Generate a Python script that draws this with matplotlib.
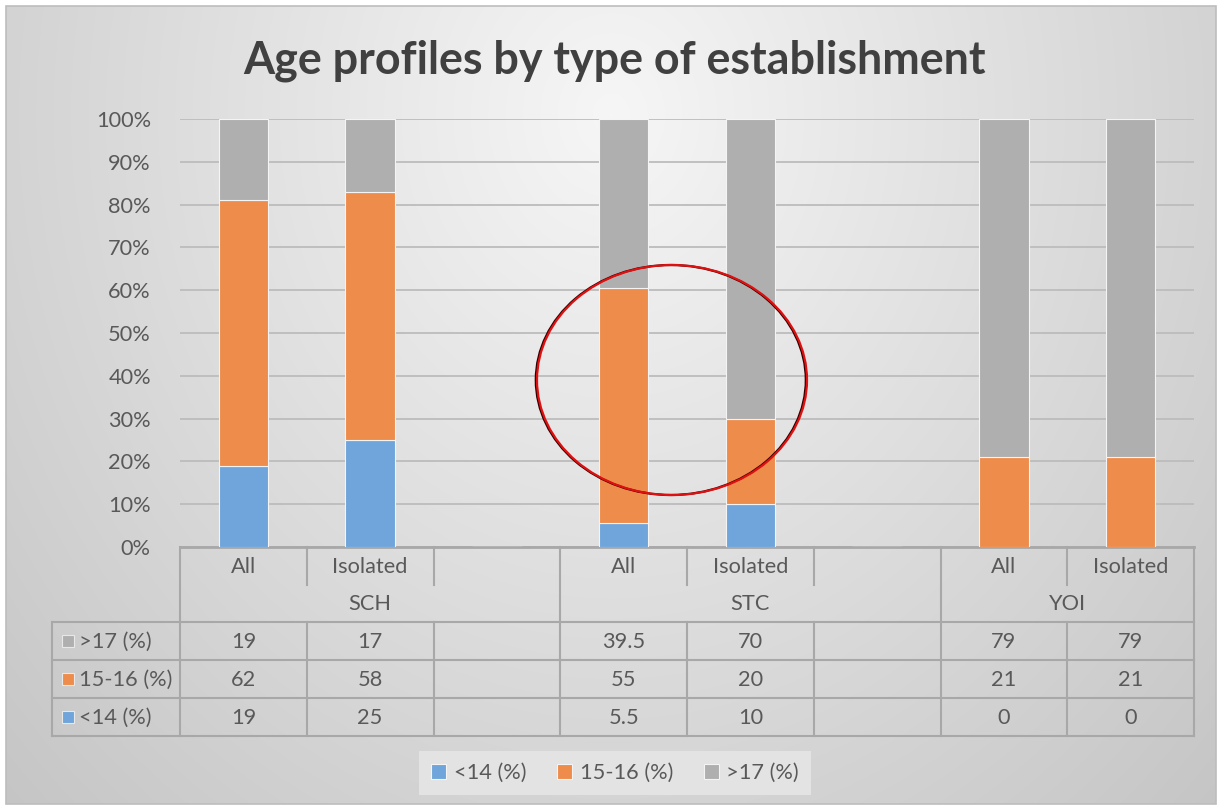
import numpy as np
import matplotlib
matplotlib.use("Agg")
import matplotlib.pyplot as plt
from matplotlib.patches import Rectangle, Ellipse
from matplotlib.transforms import blended_transform_factory
from matplotlib.ticker import PercentFormatter

# ---------------- data ----------------
groups = ["SCH", "STC", "YOI"]
group_slots = [3, 3, 2]
subcats = ["All", "Isolated", "", "All", "Isolated", "", "All", "Isolated"]
under14 = [19, 25, np.nan, 5.5, 10, np.nan, 0, 0]
age15_16 = [62, 58, np.nan, 55, 20, np.nan, 21, 21]
over17 = [19, 17, np.nan, 39.5, 70, np.nan, 79, 79]
series_names = ["<14 (%)", "15-16 (%)", ">17 (%)"]
title = "Age profiles by type of establishment"
yticks = np.arange(0, 101, 10)

colors = ["#6fa5da", "#ee8c4b", "#afafaf"]
txt_color = "#595959"
line_color = "#a8a8a8"
FONT = ["Lato", "DejaVu Sans"]
plt.rcParams["font.family"] = FONT
FS = 15.7

W, H = 1220, 807
fig = plt.figure(figsize=(W / 100, H / 100), dpi=100)

# ---------------- background ----------------
bg = fig.add_axes([0, 0, 1, 1], zorder=0)
bg.set_xlim(0, W)
bg.set_ylim(H, 0)
bg.axis("off")
yy, xx = np.mgrid[0:H, 0:W]
r = np.sqrt(((xx - 610) / 760.0) ** 2 + ((yy - 110) / 880.0) ** 2)
r = np.clip(r, 0, 1.15)
val = 0.965 - 0.17 * r
img = np.dstack([val, val, val])
bg.imshow(img, extent=(6, W - 4, H - 3, 6), aspect="auto", interpolation="bilinear")
bg.add_patch(Rectangle((6, 6), W - 10, H - 9, fill=False, ec="#bdbdbd", lw=1.2))
bg.set_xlim(0, W)
bg.set_ylim(H, 0)

fig.text(0.504, 1 - 73 / H, title, ha="center", va="baseline", fontsize=32.3,
         fontweight="bold", color="#404040")

# ---------------- main axes ----------------
L, R, T, B = 180, 1194, 119, 547
ax = fig.add_axes([L / W, 1 - B / H, (R - L) / W, (B - T) / H], zorder=2)
ax.patch.set_alpha(0)
n = len(subcats)
x = np.arange(n)
bw = 0.39
lo = np.nan_to_num(np.array(under14, float))
mid = np.nan_to_num(np.array(age15_16, float))
hi = np.nan_to_num(np.array(over17, float))
tot = lo + mid + hi
tot[tot == 0] = 1
lo_f, mid_f, hi_f = lo / tot * 100, mid / tot * 100, hi / tot * 100
b1 = ax.bar(x, lo_f, bw, color=colors[0], ec="#f4f4f4", lw=0.8, label=series_names[0], zorder=3)
b2 = ax.bar(x, mid_f, bw, bottom=lo_f, color=colors[1], ec="#f4f4f4", lw=0.8, label=series_names[1], zorder=3)
b3 = ax.bar(x, hi_f, bw, bottom=lo_f + mid_f, color=colors[2], ec="#f4f4f4", lw=0.8, label=series_names[2], zorder=3)

ax.set_xlim(-0.5, n - 0.5)
ax.set_ylim(0, 100)
ax.set_yticks(yticks)
ax.yaxis.set_major_formatter(PercentFormatter(100, decimals=0))
ax.tick_params(axis="y", length=0, pad=21, labelsize=FS, labelcolor=txt_color)
ax.set_xticks([])
ax.grid(axis="y", color="#bcbcbc", lw=1.3, zorder=0)
ax.set_axisbelow(True)
for s in ["top", "right", "left"]:
    ax.spines[s].set_visible(False)
ax.spines["bottom"].set_color(line_color)
ax.spines["bottom"].set_linewidth(2.0)

# ---------------- data table ----------------
tr = blended_transform_factory(ax.transData, ax.transAxes)
def fy(py):
    return (B - py) / (B - T)
px = (R - L) / n
x_left_col = -0.5 + (52 - L) / px
lkw = dict(color=line_color, lw=1.5, transform=tr, clip_on=False, zorder=4)

edges = [-0.5]
for g in group_slots:
    edges.append(edges[-1] + g)
for e in edges:
    ax.plot([e, e], [fy(B), fy(736)], **lkw)
for i in range(1, n):
    e = i - 0.5
    if e in edges:
        continue
    ax.plot([e, e], [fy(B), fy(585)], **lkw)
    ax.plot([e, e], [fy(622), fy(736)], **lkw)
for py in [622, 660, 698, 736]:
    ax.plot([x_left_col, n - 0.5], [fy(py), fy(py)], **lkw)
ax.plot([x_left_col, x_left_col], [fy(622), fy(736)], **lkw)

tkw = dict(transform=tr, ha="center", va="center", fontsize=FS, color=txt_color, clip_on=False)
for i, s in enumerate(subcats):
    if s:
        ax.text(i, fy(567), s, **tkw)
for gi, g in enumerate(groups):
    ax.text((edges[gi] + edges[gi + 1]) / 2, fy(604), g, **tkw)

def fmt(v):
    if np.isnan(v):
        return ""
    return f"{v:g}"

rows = [(series_names[2], over17, colors[2], 641),
        (series_names[1], age15_16, colors[1], 679),
        (series_names[0], under14, colors[0], 717)]
for name, vals, col, py in rows:
    for i, v in enumerate(vals):
        ax.text(i, fy(py + 1), fmt(v), **tkw)
    ax.add_patch(Rectangle((x_left_col + 10 / px, fy(py + 6)), 12 / px, 12 / (B - T),
                           transform=tr, fc=col, ec="#e8e8e8", lw=0.8, clip_on=False, zorder=5))
    ax.text(x_left_col + 27 / px, fy(py + 1), name, transform=tr, ha="left", va="center",
            fontsize=FS, color=txt_color, clip_on=False)

# ---------------- annotation ellipse ----------------
cx = -0.5 + (672 - L) / px
cy = (B - 380) / (B - T) * 100
ew = 270 / px
eh = 230 / (B - T) * 100
ax.add_patch(Ellipse((cx - 1.2 / px, cy), ew, eh, fill=False, ec="#300000", lw=1.6, zorder=6, clip_on=False))
ax.add_patch(Ellipse((cx, cy), ew, eh, fill=False, ec="#e01010", lw=1.6, zorder=7, clip_on=False))

# ---------------- legend ----------------
leg = ax.legend(handles=[b1, b2, b3], loc="center", ncol=3,
                bbox_to_anchor=(615 / W, 1 - 773 / H), bbox_transform=fig.transFigure,
                frameon=True, fancybox=False, facecolor="#e3e3e3", edgecolor="none",
                framealpha=1, fontsize=FS, handlelength=0.7, handleheight=0.7,
                handletextpad=0.35, columnspacing=1.4, borderpad=0.55, labelcolor=txt_color)

fig.savefig("out.png", dpi=100, facecolor="white")
